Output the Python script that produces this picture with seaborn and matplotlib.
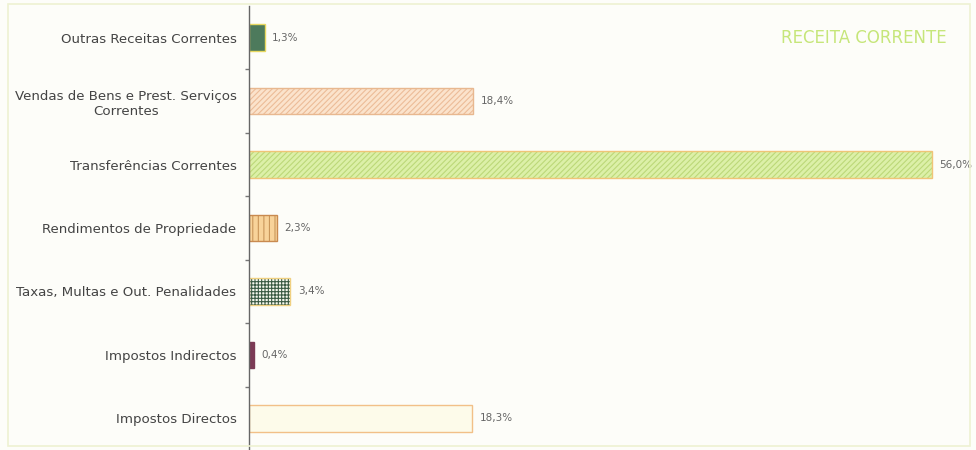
import pandas as pd
import matplotlib.pyplot as plt
import seaborn as sns
from matplotlib.patches import Rectangle

# dados do grafico (de cima para baixo)
categorias = ['Outras Receitas Correntes',
              'Vendas de Bens e Prest. Serviços\nCorrentes',
              'Transferências Correntes',
              'Rendimentos de Propriedade',
              'Taxas, Multas e Out. Penalidades',
              'Impostos Indirectos',
              'Impostos Directos']
percentagens = [1.3, 18.4, 56.0, 2.3, 3.4, 0.4, 18.3]
rotulos = ['1,3%', '18,4%', '56,0%', '2,3%', '3,4%', '0,4%', '18,3%']

cores = ['#4d7a5c', '#fbe3cc', '#dcf0a8', '#f8d39a', '#f6f8ee', '#7b3a55', '#fdfbea']
hatch_cor = ['#4d7a5c', '#ecbc98', '#bcd878', '#c9965a', '#3a5a44', '#7b3a55', '#fdfbea']
hatches = ['', '//////', '//////', '|||', '+++++', '', '']
bordas = ['#e8d860', '#e8b890', '#f0c478', '#c98a50', '#f0d080', '#7b3a55', '#f2c088']

df = pd.DataFrame({'categoria': categorias, 'valor': percentagens})

sns.set_style('white')
plt.rcParams['font.family'] = ['DejaVu Sans']
plt.rcParams['hatch.linewidth'] = 0.8

fig = plt.figure(figsize=(9.76, 4.5), dpi=100, facecolor='#fdfdf9')
ax = fig.add_axes([249 / 976, 0, 727 / 976, 444 / 450])
ax.set_facecolor('#fdfdf9')

# camada 1: preenchimento + padrao
sns.barplot(data=df, y='categoria', x='valor', orient='h', width=0.42,
            linewidth=0, ax=ax, errorbar=None)
for p, c, hc, h in zip(ax.patches, cores, hatch_cor, hatches):
    p.set_facecolor(c)
    p.set_edgecolor(hc)
    p.set_hatch(h)
    p.set_linewidth(0)
n = len(ax.patches)

# camada 2: contorno
sns.barplot(data=df, y='categoria', x='valor', orient='h', width=0.42,
            fill=False, ax=ax, errorbar=None)
for p, b in zip(ax.patches[n:], bordas):
    p.set_edgecolor(b)
    p.set_linewidth(1.0)

for i, (v, r) in enumerate(zip(percentagens, rotulos)):
    ax.text(v + 0.6, i, r, va='center', ha='left', fontsize=7.5, color='#666666')

ax.set_xlim(0, 59.6)
ax.set_ylim(len(categorias) - 0.5, -0.5)
ax.set_xlabel('')
ax.set_ylabel('')
ax.set_xticks([])
ax.tick_params(axis='y', which='major', left=False, length=0, pad=9, labelsize=9.6,
               labelcolor='#444444')
ax.set_yticks([i + 0.5 for i in range(len(categorias) - 1)], minor=True)
ax.tick_params(axis='y', which='minor', left=True, length=3, width=1, color='#777777',
               direction='out')
for lab in ax.get_yticklabels():
    lab.set_multialignment('center')

sns.despine(ax=ax, top=True, right=True, bottom=True)
ax.spines['left'].set_color('#666666')
ax.spines['left'].set_linewidth(1)

ax.text(0.96, 0.928, 'RECEITA CORRENTE', transform=ax.transAxes, ha='right', va='center',
        fontsize=12, color='#c6e67a')

fig.patches.append(Rectangle((8 / 976, 4 / 450), 962 / 976, 442 / 450, transform=fig.transFigure,
                             fill=False, edgecolor='#eef2d2', linewidth=1.2, zorder=0))

fig.savefig('out.png', dpi=100, facecolor=fig.get_facecolor())
